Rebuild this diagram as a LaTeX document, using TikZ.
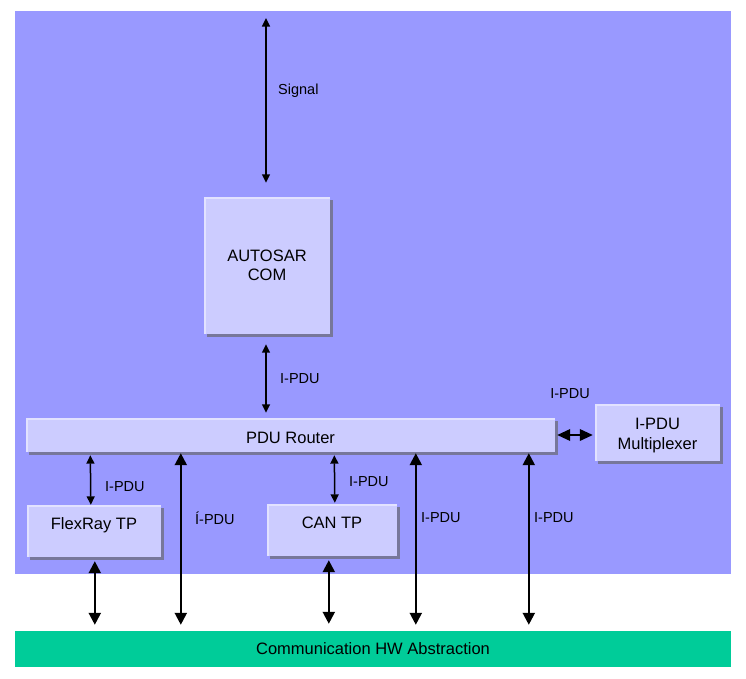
\documentclass[tikz,border=0pt]{standalone}
\usepackage{fontspec}
\setmainfont{Liberation Sans}
\usetikzlibrary{arrows.meta,shadows}
\definecolor{bgblue}{HTML}{9999FF}
\definecolor{boxfill}{HTML}{CCCCFF}
\definecolor{boxhl}{HTML}{E2E2FF}
\definecolor{boxshadow}{HTML}{77779A}
\definecolor{hwgreen}{HTML}{00CC99}
\tikzset{
  blockbox/.style={fill=boxfill, draw=none, inner sep=0pt, align=center,
    font=\fontsize{16.5}{19.5}\selectfont,
    drop shadow={shadow xshift=2.5pt, shadow yshift=-2.5pt, fill=boxshadow, opacity=1},
    path picture={\draw[boxhl, line width=3pt]
      (path picture bounding box.south west) -- (path picture bounding box.north west)
      -- (path picture bounding box.north east);}},
  lbl/.style={font=\fontsize{14.5}{17}\selectfont, inner sep=0pt},
  thinarrow/.style={line width=1.5pt, {Triangle[length=8.5pt,width=8pt]}-{Triangle[length=8.5pt,width=8pt]}},
  midarrow/.style={line width=2pt, {Triangle[length=13pt,width=11.5pt]}-{Triangle[length=13pt,width=11.5pt]}},
  bigarrow/.style={line width=2.2pt, {Triangle[length=12pt,width=12pt]}-{Triangle[length=12pt,width=12pt]}},
}
\begin{document}
\begin{tikzpicture}[x=1pt,y=-1pt]
\useasboundingbox (0,0) rectangle (746,678);
\fill[white] (0,0) rectangle (746,678);
\fill[bgblue] (15,11) rectangle (731,574);
\node[fill=hwgreen, minimum width=716pt, minimum height=36pt, inner sep=0pt,
  font=\fontsize{16.5}{19.5}\selectfont] (hw) at (373,649) {Communication HW Abstraction};

\coordinate (sigtop) at (266,18);
\node[blockbox, minimum width=126pt, minimum height=137pt] (com) at (267,265.5) {AUTOSAR\\COM};
\node[blockbox, minimum width=529pt, minimum height=34pt, text height=16pt, text depth=0pt] (router) at (290.5,435) {PDU Router};
\node[blockbox, minimum width=125pt, minimum height=57pt] (mux) at (657.5,432.5) {\rule{0pt}{17pt}I-PDU\\Multiplexer};
\node[blockbox, minimum width=134pt, minimum height=52pt, text height=12pt, text depth=16pt] (flex) at (94,531) {FlexRay TP};
\node[blockbox, minimum width=130pt, minimum height=52pt, text height=12pt, text depth=16pt] (can) at (332,530) {CAN TP};

% Signal
\draw[thinarrow, shorten >=14pt] (sigtop) -- (sigtop |- com.north);
\node[lbl, anchor=west] at (278,91) {Signal};
% COM - Router
\draw[thinarrow, shorten <=10pt, shorten >=5pt] ([xshift=-1pt]com.south) -- ([xshift=-1pt]com.south |- router.north);
\node[lbl, anchor=west] at (280,378.5) {I-PDU};
% Router - Mux
\draw[midarrow, shorten <=2pt, shorten >=2pt] (router.east) -- (mux.west |- router.east);
\node[lbl] at (570,393.5) {I-PDU};
% Router - FlexRay
\draw[thinarrow, shorten <=3pt] ([xshift=64.5pt]router.south west) -- ([xshift=64pt]flex.north west);
\node[lbl, anchor=west] at (105,486.5) {I-PDU};
% Router - HW (x=181)
\draw[bigarrow, shorten <=1pt, shorten >=6pt] ([xshift=155pt]router.south west) -- ([xshift=155pt]router.south west |- hw.north);
\node[lbl, anchor=west] at (195,518.5) {Í-PDU};
% Router - CAN
\draw[thinarrow, shorten <=3pt, shorten >=1pt] ([xshift=308.5pt]router.south west) -- ([xshift=68pt]can.north west);
\node[lbl, anchor=west] at (349,481.5) {I-PDU};
% Router - HW (x=416)
\draw[bigarrow, shorten <=1pt, shorten >=6pt] ([xshift=390pt]router.south west) -- ([xshift=390pt]router.south west |- hw.north);
\node[lbl, anchor=west] at (421,517.5) {I-PDU};
% Router - HW (x=529)
\draw[bigarrow, shorten <=1pt, shorten >=6pt] ([xshift=503pt]router.south west) -- ([xshift=503pt]router.south west |- hw.north);
\node[lbl, anchor=west] at (534,517.5) {I-PDU};
% FlexRay - HW
\draw[bigarrow, shorten <=4pt, shorten >=6pt] ([xshift=68pt]flex.south west) -- ([xshift=68pt]flex.south west |- hw.north);
% CAN - HW
\draw[bigarrow, shorten <=4pt, shorten >=7pt] ([xshift=62pt]can.south west) -- ([xshift=62pt]can.south west |- hw.north);
\end{tikzpicture}
\end{document}
